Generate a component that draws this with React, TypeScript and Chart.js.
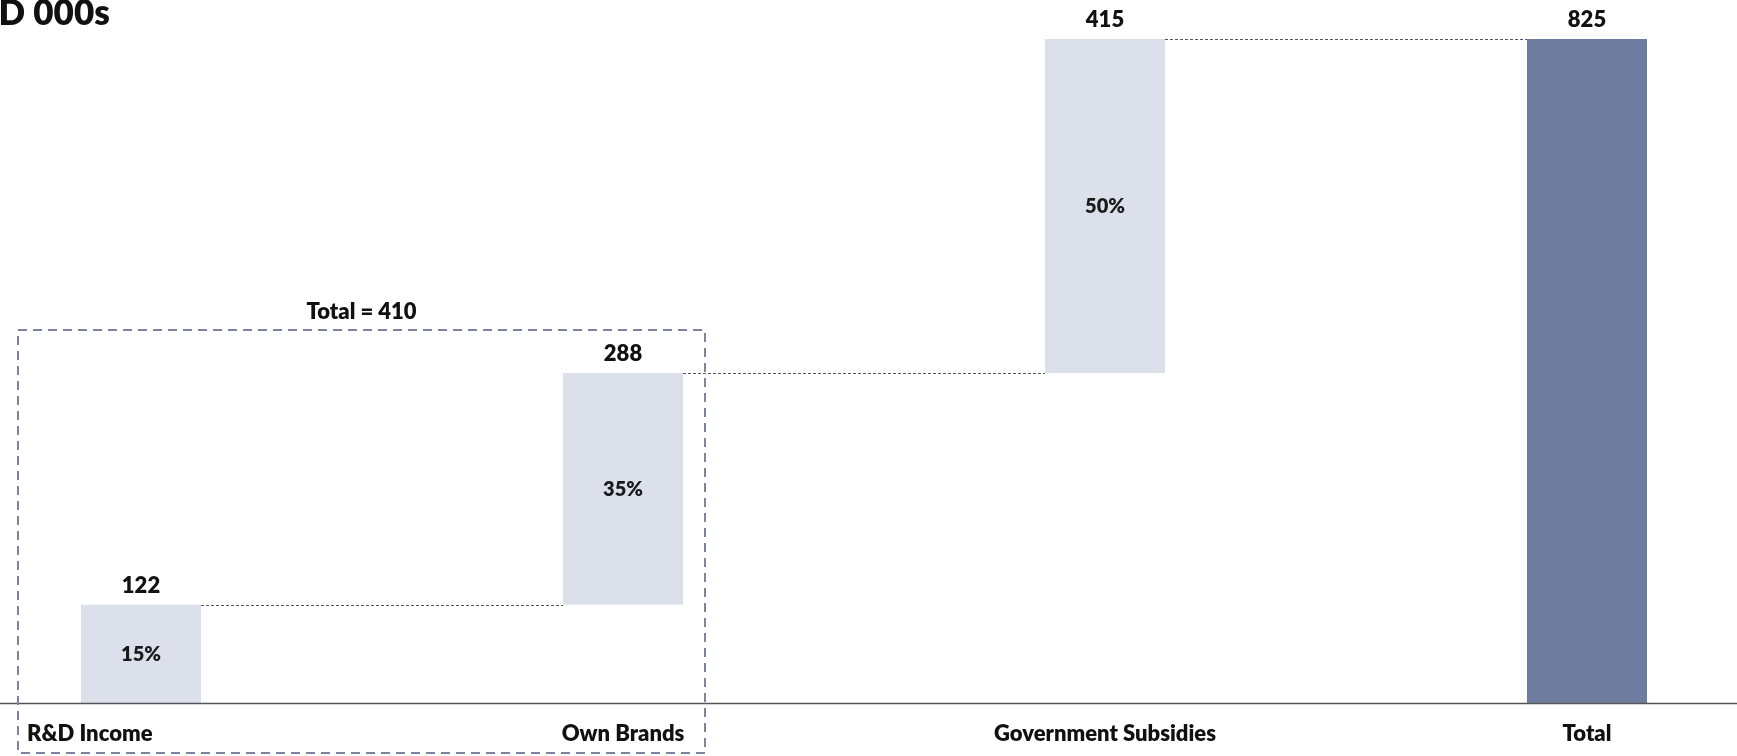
import React, { useEffect, useRef } from "react";
import { Chart, registerables } from "chart.js";

Chart.register(...registerables);

const categories = ["R&D Income", "Own Brands", "Government Subsidies", "Total"];
const increments = [122, 288, 415];
const totalValue = 825;
const valueLabels = ["122", "288", "415", "825"];
const shareLabels = ["15%", "35%", "50%", ""];
const groupLabel = "Total = 410";
const unitTitle = "USD 000s";

const LIGHT = "#DCE0EB";
const DARK = "#6E7CA0";
const FONT = "Lato, 'Open Sans', sans-serif";
const W = 800;

function buildFloating(): [number, number][] {
  const out: [number, number][] = [];
  let acc = 0;
  for (const v of increments) {
    out.push([acc, acc + v]);
    acc += v;
  }
  out.push([0, totalValue]);
  return out;
}

const annotatePlugin = {
  id: "annotate",
  afterDatasetsDraw(chart: any) {
    const ctx = chart.ctx as CanvasRenderingContext2D;
    const meta = chart.getDatasetMeta(0);
    const xs = chart.scales.x;
    const ys = chart.scales.y;
    const bars = meta.data.map((el: any) => el.getProps(["x", "y", "base", "width"], true));

    ctx.save();
    // connectors
    ctx.strokeStyle = "#555555";
    ctx.lineWidth = 1;
    ctx.setLineDash([3, 2]);
    for (let i = 0; i < bars.length - 1; i++) {
      const a = bars[i];
      const b = bars[i + 1];
      const y = Math.round(a.y) + 0.5;
      ctx.beginPath();
      ctx.moveTo(a.x + a.width / 2, y);
      ctx.lineTo(b.x - b.width / 2, y);
      ctx.stroke();
    }

    // baseline axis
    const y0 = Math.round(ys.getPixelForValue(0)) + 0.5;
    ctx.setLineDash([]);
    ctx.strokeStyle = "#555555";
    ctx.lineWidth = 1.5;
    ctx.beginPath();
    ctx.moveTo(0, y0);
    ctx.lineTo(chart.width, y0);
    ctx.stroke();

    // value labels
    ctx.fillStyle = "#111111";
    ctx.font = `${W} 22px ${FONT}`;
    ctx.textAlign = "center";
    ctx.textBaseline = "alphabetic";
    bars.forEach((b: any, i: number) => {
      ctx.fillText(valueLabels[i], b.x, b.y - 12);
    });

    // share labels
    ctx.font = `${W} 20px ${FONT}`;
    ctx.fillStyle = "#1a1a1a";
    ctx.textBaseline = "middle";
    bars.forEach((b: any, i: number) => {
      if (shareLabels[i]) ctx.fillText(shareLabels[i], b.x, (b.y + b.base) / 2 + 1);
    });

    // group dashed box
    const boxLeft = xs.getPixelForValue(0) - 123;
    const boxRight = xs.getPixelForValue(1) + 82;
    const boxTop = bars[1].y - 43;
    const boxBottom = chart.height - 3;
    ctx.strokeStyle = "#7A849F";
    ctx.lineWidth = 2;
    ctx.setLineDash([9, 6]);
    ctx.strokeRect(boxLeft, boxTop, boxRight - boxLeft, boxBottom - boxTop);
    ctx.setLineDash([]);

    ctx.fillStyle = "#111111";
    ctx.font = `${W} 22px ${FONT}`;
    ctx.textBaseline = "alphabetic";
    ctx.textAlign = "center";
    ctx.fillText(groupLabel, (boxLeft + boxRight) / 2, boxTop - 11);

    // category labels
    const labelBase = y0 + 37;
    categories.forEach((c, i) => {
      const x = xs.getPixelForValue(i);
      if (i === 0) {
        ctx.textAlign = "left";
        ctx.fillText(c, boxLeft + 9, labelBase);
      } else {
        ctx.textAlign = "center";
        ctx.fillText(c, x, labelBase);
      }
    });

    // title (clipped at left edge)
    ctx.font = `${W} 35px ${FONT}`;
    ctx.textAlign = "left";
    ctx.fillText(unitTitle, -47, 25);
    ctx.restore();
  },
};

export default function App() {
  const ref = useRef<HTMLCanvasElement | null>(null);

  useEffect(() => {
    document.body.style.margin = "0";
    const canvas = ref.current;
    if (!canvas) return;
    const floating = buildFloating();
    const colors = categories.map((_, i) => (i === categories.length - 1 ? DARK : LIGHT));
    const chart = new Chart(canvas, {
      type: "bar",
      data: {
        labels: categories,
        datasets: [
          {
            data: floating as any,
            backgroundColor: colors,
            borderWidth: 0,
            categoryPercentage: 1,
            barPercentage: 0.249,
            clip: false as any,
          },
        ],
      },
      options: {
        responsive: false,
        animation: false,
        events: [],
        layout: { padding: { left: 141, right: 150, top: 39, bottom: 53 } },
        plugins: {
          legend: { display: false },
          tooltip: { enabled: false },
          title: { display: false },
        },
        scales: {
          x: { type: "category", display: false, offset: false, grid: { display: false } },
          y: { display: false, min: 0, max: totalValue, grid: { display: false } },
        },
      },
      plugins: [annotatePlugin],
    });
    return () => chart.destroy();
  }, []);

  return (
    <div style={{ width: 1737, height: 756, background: "#ffffff" }}>
      <canvas ref={ref} width={1737} height={756} style={{ display: "block" }} />
    </div>
  );
}
